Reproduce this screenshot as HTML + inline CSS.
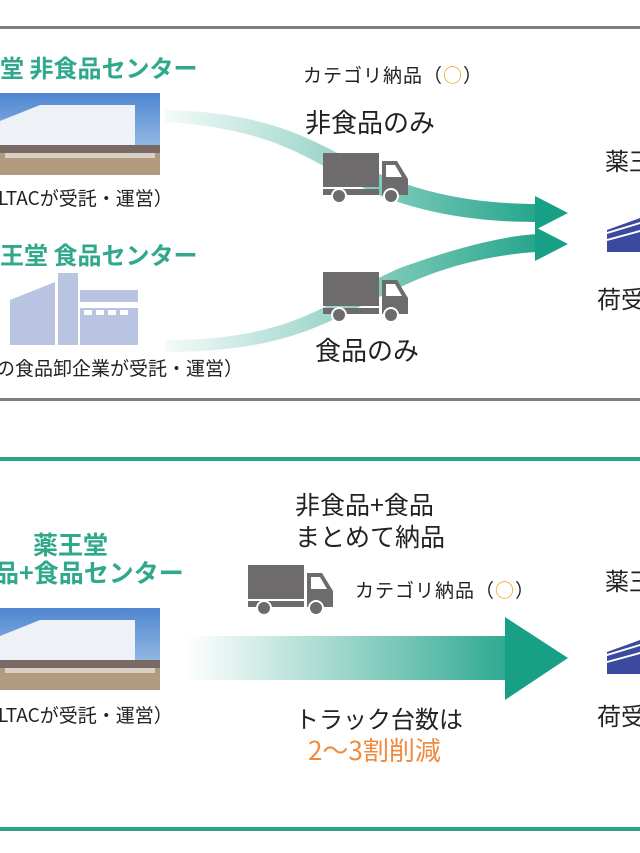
<!DOCTYPE html>
<html><head><meta charset="utf-8"><style>
body{margin:0;width:640px;height:853px;background:#fff;overflow:hidden;position:relative;font-family:"Noto Sans CJK JP","Liberation Sans",sans-serif;}
.t{position:absolute;white-space:nowrap;line-height:1;}
.g{color:#2fa88c;font-weight:bold;}
.k{color:#222;}
</style></head><body>
<svg width="640" height="853" style="position:absolute;left:0;top:0">
<defs>
<linearGradient id="a1" x1="165" y1="0" x2="560" y2="0" gradientUnits="userSpaceOnUse"><stop offset="0" stop-color="#2aa58c" stop-opacity="0.05"/><stop offset="1" stop-color="#17a085"/></linearGradient>
<linearGradient id="a3" x1="185" y1="0" x2="540" y2="0" gradientUnits="userSpaceOnUse"><stop offset="0" stop-color="#2aa58c" stop-opacity="0"/><stop offset="1" stop-color="#17a085"/></linearGradient>
<linearGradient id="sky" x1="0" y1="0" x2="0" y2="1"><stop offset="0" stop-color="#4f86d0"/><stop offset="1" stop-color="#b8d2ee"/></linearGradient>
<g id="truck"><rect x="0" y="0" width="56" height="34" fill="#6d6b6b"/><rect x="0" y="36" width="56" height="6" fill="#6d6b6b"/><path d="M59 8 H74 L85 26 V42 H59 Z" fill="#6d6b6b"/><path d="M63 12 H72 L79 24 H63 Z" fill="#fff"/><circle cx="16" cy="43" r="8" fill="#fff"/><circle cx="16" cy="43" r="6" fill="#6d6b6b"/><circle cx="68" cy="43" r="8" fill="#fff"/><circle cx="68" cy="43" r="6" fill="#6d6b6b"/></g>
<g id="photo"><rect x="0" y="0" width="160" height="82" fill="url(#sky)"/><path d="M0 28 L40 12 H135 V55 H0Z" fill="#eef1f6"/><rect x="0" y="52" width="160" height="8" fill="#7a6a66"/><rect x="0" y="60" width="160" height="22" fill="#b09a80"/><rect x="5" y="60" width="150" height="5" fill="#d8d0c4"/></g>
<g id="blue"><path d="M0 12 L33 0 V34 H0Z" fill="#3b4a9e"/><path d="M0 14 L33 4 V6 L0 16Z" fill="#fff"/><path d="M0 21 L33 12 V14 L0 23Z" fill="#fff"/></g>
</defs>
<rect x="0" y="26" width="640" height="3" fill="#7f7f7f"/>
<rect x="0" y="398" width="640" height="3" fill="#7f7f7f"/>
<rect x="0" y="457" width="640" height="4" fill="#2aa58c"/>
<rect x="0" y="827" width="640" height="4" fill="#2aa58c"/>
<use href="#photo" x="0" y="93"/>
<use href="#photo" x="0" y="608"/>
<g fill="#b9c4e2"><path d="M10 345 V300 L55 282 V345Z"/><rect x="58" y="273" width="20" height="72"/><rect x="80" y="290" width="58" height="12"/><rect x="80" y="308" width="58" height="37"/></g>
<g fill="#fff"><rect x="84" y="310" width="8" height="5"/><rect x="96" y="310" width="8" height="5"/><rect x="108" y="310" width="8" height="5"/><rect x="120" y="310" width="8" height="5"/></g>
<path d="M165 110 C300 113 330 158 400 182 C450 200 500 204 538 204 V222 C495 222 445 218 395 201 C325 178 300 130 165 122Z" fill="url(#a1)"/>
<path d="M535 196 L568 213 L535 230Z" fill="#17a085"/>
<path d="M165 340 C300 340 330 298 400 268 C450 250 500 236 538 234 V252 C495 254 445 266 405 285 C335 315 300 352 165 352Z" fill="url(#a1)"/>
<path d="M535 227 L568 244 L535 261Z" fill="#17a085"/>
<use href="#truck" x="323" y="153"/>
<use href="#truck" x="323" y="272"/>
<use href="#truck" x="248" y="565"/>
<rect x="185" y="636" width="322" height="44" fill="url(#a3)"/>
<path d="M505 617 L568 658 L505 700Z" fill="#17a085"/>
<use href="#blue" x="607" y="218"/>
<use href="#blue" x="607" y="640"/>
</svg>
<div class="t g" style="left:0;top:55px;font-size:24px">堂 非食品センター</div>
<div class="t k" style="left:-2px;top:188px;font-size:19px">LTACが受託・運営）</div>
<div class="t g" style="left:0;top:242px;font-size:24px">王堂 食品センター</div>
<div class="t k" style="left:-4px;top:358px;font-size:19px">の食品卸企業が受託・運営）</div>
<div class="t k" style="left:303px;top:65px;font-size:19px;letter-spacing:1px">カテゴリ納品（<span style="color:#f0a020">○</span>）</div>
<div class="t k" style="left:305px;top:109px;font-size:26px">非食品のみ</div>
<div class="t k" style="left:315px;top:337px;font-size:26px">食品のみ</div>
<div class="t k" style="left:605px;top:148px;font-size:24px">薬王</div>
<div class="t k" style="left:597px;top:286px;font-size:24px">荷受</div>
<div class="t g" style="left:33px;top:532px;font-size:25px">薬王堂</div>
<div class="t g" style="left:-6px;top:560px;font-size:25px">品+食品センター</div>
<div class="t k" style="left:-2px;top:705px;font-size:19px">LTACが受託・運営）</div>
<div class="t k" style="left:295px;top:492px;font-size:25px">非食品+食品</div>
<div class="t k" style="left:295px;top:524px;font-size:25px">まとめて納品</div>
<div class="t k" style="left:355px;top:580px;font-size:19px;letter-spacing:1px">カテゴリ納品（<span style="color:#f0a020">○</span>）</div>
<div class="t k" style="left:295px;top:706px;font-size:24px">トラック台数は</div>
<div class="t" style="left:308px;top:737px;font-size:26px;color:#f08a3c">2〜3割削減</div>
<div class="t k" style="left:605px;top:568px;font-size:24px">薬王</div>
<div class="t k" style="left:597px;top:703px;font-size:24px">荷受</div>
</body></html>
